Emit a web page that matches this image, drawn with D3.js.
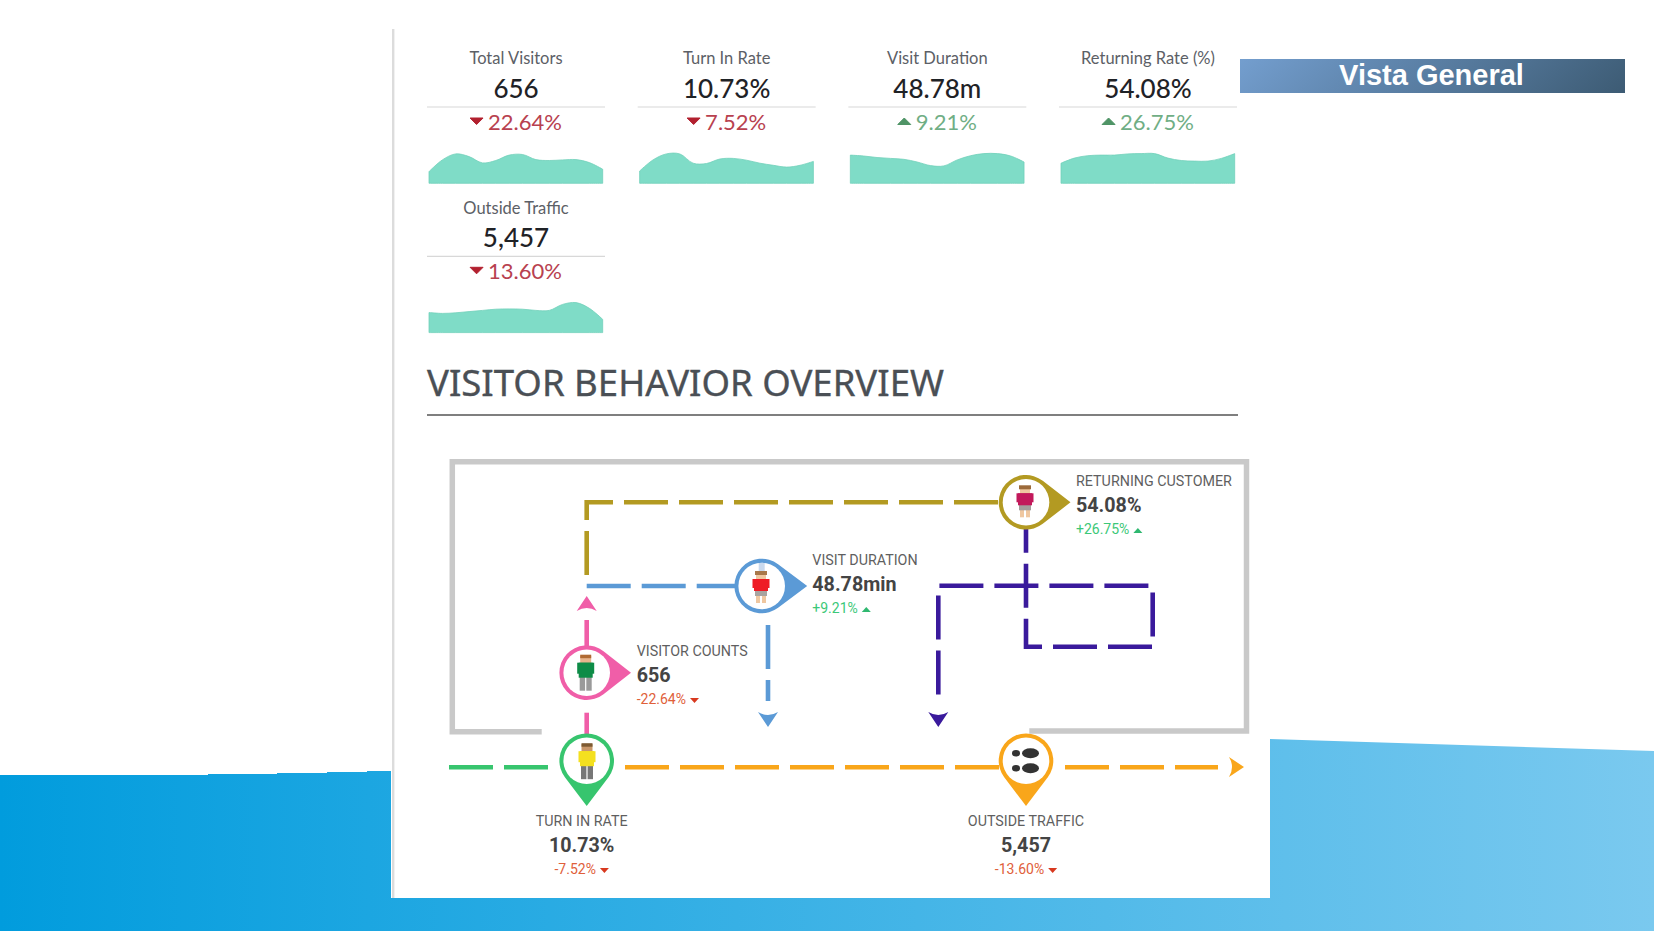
<!DOCTYPE html>
<html>
<head>
<meta charset="utf-8">
<script src="https://cdn.jsdelivr.net/npm/d3@7"></script>
<style>
  html, body { margin: 0; padding: 0; background: white; overflow: hidden; }
  svg { display: block; }
</style>
</head>
<body>
<script>
// kpi cards
let cardLabels = ["Total Visitors", "Turn In Rate", "Visit Duration", "Returning Rate (%)", "Outside Traffic"];
let cardValues = ["656", "10.73%", "48.78m", "54.08%", "5,457"];
let cardDeltas = [-22.64, -7.52, 9.21, 26.75, -13.60];

// sparkline heights, 0-100 of the strip
let sparkVisitors = [39, 78, 98, 89, 68, 76, 94, 96, 79, 76, 78, 79, 69, 47];
let sparkTurnIn = [41, 78, 98, 98, 67, 66, 81, 83, 77, 67, 60, 54, 60, 73];
let sparkDuration = [94, 91, 86, 83, 80, 71, 59, 58, 78, 92, 99, 99, 91, 71];
let sparkReturning = [67, 84, 92, 94, 94, 98, 99, 99, 84, 76, 74, 74, 83, 99];
let sparkOutside = [67, 64, 66, 70, 74, 78, 79, 78, 74, 74, 94, 100, 81, 44];
let sparks = [sparkVisitors, sparkTurnIn, sparkDuration, sparkReturning, sparkOutside];

// flow diagram
let flowLabels = ["VISITOR COUNTS", "VISIT DURATION", "RETURNING CUSTOMER", "TURN IN RATE", "OUTSIDE TRAFFIC"];
let flowValues = ["656", "48.78min", "54.08%", "10.73%", "5,457"];
let flowDeltas = [-22.64, 9.21, 26.75, -7.52, -13.60];

let w = 1654, h = 931;
let svg = d3.select("body").append("svg").attr("width", w).attr("height", h);
let defs = svg.append("defs");

let bgGrad = defs.append("linearGradient").attr("id", "bg")
  .attr("gradientUnits", "userSpaceOnUse")
  .attr("x1", 0).attr("x2", w).attr("y1", 0).attr("y2", 0);
bgGrad.append("stop").attr("offset", 0).attr("stop-color", "#019cdd");
bgGrad.append("stop").attr("offset", 1).attr("stop-color", "#7ac9ef");

let barGrad = defs.append("linearGradient").attr("id", "bar")
  .attr("gradientUnits", "userSpaceOnUse")
  .attr("x1", 1300).attr("y1", -70).attr("x2", 1565).attr("y2", 222);
barGrad.append("stop").attr("offset", 0).attr("stop-color", "#7eabe0");
barGrad.append("stop").attr("offset", 1).attr("stop-color", "#324e62");

// slide background
svg.append("path").attr("fill", "url(#bg)")
  .attr("d", "M0,775 H208 V774 H277 V773 H327 V772 H367 V771 H391 V898 H1270 V739 L1654,751 V931 H0 Z");
svg.append("rect").attr("x", 392).attr("y", 29).attr("width", 2.4).attr("height", 869).attr("fill", "#dcdcdc");

// header bar
svg.append("rect").attr("x", 1240).attr("y", 59).attr("width", 385).attr("height", 34).attr("fill", "url(#bar)");
svg.append("text").attr("x", 1431.5).attr("y", 85).attr("text-anchor", "middle")
  .attr("font-family", "Liberation Sans").attr("font-weight", "bold").attr("font-size", 29)
  .attr("fill", "white").text("Vista General");

// cards
let cardFont = "Lato";
let cardX = d3.scalePoint().domain(d3.range(4)).range([516, 1148]);
let posColor = "#70ae85", negColor = "#b8414f";

cardLabels.forEach(function(label, i) {
  let cx = cardX(i % 4);
  let dy = i < 4 ? 0 : 149.3;
  let g = svg.append("g").attr("transform", "translate(" + cx + "," + dy + ")");

  g.append("text").attr("y", 64.4).attr("text-anchor", "middle")
    .attr("font-family", cardFont).attr("font-size", 16.5).attr("fill", "#5c6066").text(label);
  g.append("text").attr("y", 98).attr("text-anchor", "middle")
    .attr("font-family", cardFont).attr("font-size", 26).attr("font-weight", 500).attr("fill", "#1f2226").text(cardValues[i]);
  g.append("line").attr("x1", -89).attr("x2", 89).attr("y1", 107).attr("y2", 107)
    .attr("stroke", "#d8d8d8").attr("stroke-width", 1.2);

  let delta = cardDeltas[i];
  let colour = delta < 0 ? negColor : posColor;
  let deltaText = g.append("text").attr("y", 130).attr("text-anchor", "middle")
    .attr("font-family", cardFont).attr("font-size", 22).attr("fill", colour)
    .attr("dx", 9).text(d3.format(".2f")(Math.abs(delta)) + "%");
  let bb = deltaText.node().getBBox();
  let tx = bb.x - 11.5;
  g.append("path").attr("fill", delta < 0 ? "#b2202f" : "#4f9466")
    .attr("stroke", delta < 0 ? "#b2202f" : "#4f9466").attr("stroke-width", 1).attr("stroke-linejoin", "round")
    .attr("d", delta < 0
      ? "M" + (tx - 6.5) + ",118 h13 l-6.5,6.5 Z"
      : "M" + (tx - 6.5) + ",124.5 h13 l-6.5,-6.5 Z");

  // sparkline
  let sx = d3.scaleLinear().domain([0, sparks[i].length - 1]).range([-87, 86.7]);
  let sy = d3.scaleLinear().domain([0, 100]).range([183.3, 153.3]);
  let area = d3.area().x((d, k) => sx(k)).y0(sy(0)).y1(d => sy(d)).curve(d3.curveCatmullRom);
  g.append("path").datum(sparks[i]).attr("d", area)
    .attr("fill", "#7fdcc7").attr("stroke", "#71d0ba").attr("stroke-width", 0.8);
});

// section title
svg.append("text").attr("x", 427).attr("y", 396).attr("font-family", "Noto Sans")
  .attr("font-size", 36).attr("fill", "#4a4f55").attr("stroke", "#4a4f55").attr("stroke-width", 0.35)
  .attr("textLength", 517).attr("lengthAdjust", "spacingAndGlyphs")
  .text("VISITOR BEHAVIOR OVERVIEW");
svg.append("line").attr("x1", 427).attr("x2", 1238).attr("y1", 415).attr("y2", 415)
  .attr("stroke", "#555").attr("stroke-width", 1.3);

// outer gray frame
svg.append("path").attr("fill", "none").attr("stroke", "#c9c9c9").attr("stroke-width", 5.5)
  .attr("d", "M541.7,731.7 H452.3 V461.8 H1246.5 V731 H1029.3");

// dashed flows
let line = d3.line();
function flow(points, colour) {
  svg.append("path").attr("d", line(points)).attr("fill", "none")
    .attr("stroke", colour).attr("stroke-width", 4.6).attr("stroke-dasharray", "44 11");
}
let gold = "#b39a22", blue = "#5b9ad6", pink = "#f05ea8", green = "#37c56e", orange = "#f9a61a", purple = "#3a1a9c";

flow([[586.7, 575], [586.7, 502.3], [1005, 502.3]], gold);
flow([[586.7, 586], [740, 586]], blue);
flow([[768, 625], [768, 701]], blue);
flow([[586.7, 664], [586.7, 620]], pink);
svg.append("line").attr("x1", 586.7).attr("x2", 586.7).attr("y1", 712.7).attr("y2", 740)
  .attr("stroke", pink).attr("stroke-width", 4.6);
flow([[449, 767.3], [548, 767.3]], green);
flow([[625, 767.3], [1000, 767.3]], orange);
flow([[1065, 767.3], [1218, 767.3]], orange);
flow([[1026, 508.7], [1026, 646.7], [1152.7, 646.7], [1152.7, 585.7], [938.3, 585.7], [938.3, 696]], purple);

// notched arrow heads
function arrow(x, y, angle, colour) {
  svg.append("path").attr("fill", colour)
    .attr("transform", "translate(" + x + "," + y + ") rotate(" + angle + ")")
    .attr("d", "M0,8 L-10,-7 Q0,-1 10,-7 Z");
}
arrow(768, 719, 0, blue);
arrow(938.3, 719, 0, purple);
arrow(586.7, 604, 180, pink);
arrow(1236, 767, -90, orange);

// pin markers
function pin(cx, cy, tipAngle, tipDist, colour) {
  let g = svg.append("g").attr("transform", "translate(" + cx + "," + cy + ")");
  let r = 27.3;
  let a = Math.acos(r / tipDist);
  let t = tipAngle * Math.PI / 180;
  let p1 = [r * Math.cos(t - a), r * Math.sin(t - a)];
  let p2 = [r * Math.cos(t + a), r * Math.sin(t + a)];
  let tip = [tipDist * Math.cos(t), tipDist * Math.sin(t)];
  g.append("path").attr("fill", colour)
    .attr("d", "M" + p1 + " L" + tip + " L" + p2 + " A" + r + "," + r + " 0 1 1 " + p1 + " Z");
  g.append("circle").attr("r", 23.3).attr("fill", "white");
  return g;
}

function man(g, dx, dy, shirt, hair, legs, skin) {
  let p = g.append("g").attr("transform", "translate(" + dx + "," + dy + ")");
  p.append("rect").attr("x", -6).attr("y", 4).attr("width", 5.4).attr("height", 14).attr("fill", legs);
  p.append("rect").attr("x", 0.6).attr("y", 4).attr("width", 5.4).attr("height", 14).attr("fill", legs);
  p.append("rect").attr("x", -5.5).attr("y", -17).attr("width", 11).attr("height", 8).attr("fill", skin);
  p.append("rect").attr("x", -5.5).attr("y", -18).attr("width", 11).attr("height", 3.5).attr("fill", hair);
  p.append("rect").attr("x", -8.5).attr("y", -10).attr("width", 17).attr("height", 11).attr("fill", shirt);
  p.append("rect").attr("x", -7).attr("y", -10).attr("width", 14).attr("height", 15).attr("fill", shirt);
}

function woman(g, dx, dy, shirt, hair, shorts, skin) {
  let p = g.append("g").attr("transform", "translate(" + dx + "," + dy + ")");
  p.append("rect").attr("x", -5).attr("y", 8).attr("width", 4).attr("height", 8).attr("fill", skin);
  p.append("rect").attr("x", 1).attr("y", 8).attr("width", 4).attr("height", 8).attr("fill", skin);
  p.append("rect").attr("x", -6).attr("y", 3).attr("width", 12).attr("height", 6).attr("fill", shorts);
  p.append("rect").attr("x", -5).attr("y", -15).attr("width", 10).attr("height", 8).attr("fill", skin);
  p.append("rect").attr("x", -6).attr("y", -16).attr("width", 12).attr("height", 4).attr("fill", hair);
  p.append("rect").attr("x", -8.5).attr("y", -8).attr("width", 17).attr("height", 9).attr("fill", shirt);
  p.append("rect").attr("x", -7).attr("y", -8).attr("width", 14).attr("height", 12).attr("fill", shirt);
}

let pinPink = pin(586.7, 672.7, 0, 44.3, pink);
man(pinPink, -1, 0, "#0e8c47", "#b06a33", "#9a9a9a", "#e8b48c");
let pinBlue = pin(761.7, 586, 0, 45.5, blue);
pinBlue.append("rect").attr("x", -3).attr("y", -23).attr("width", 6).attr("height", 9).attr("fill", "#c9d9ee");
woman(pinBlue, -0.7, 1, "#ee1c25", "#a9784a", "#a8a4a0", "#efc7a0");
let pinGold = pin(1026, 502.3, 0, 44.5, gold);
woman(pinGold, -1, -1, "#c2185b", "#9c6a3a", "#a49c9c", "#efc7a0");
let pinGreen = pin(586.7, 760.7, 90, 45.3, green);
man(pinGreen, 0.3, 0.5, "#f4e01f", "#7d5a32", "#777", "#c9976a");
let pinOrange = pin(1026, 760.7, 90, 45.3, orange);

// footprints
[-7.5, 7.5].forEach(function(y) {
  pinOrange.append("ellipse").attr("cx", 4.5).attr("cy", y).attr("rx", 8.5).attr("ry", 5).attr("fill", "#333");
  pinOrange.append("ellipse").attr("cx", -10).attr("cy", y).attr("rx", 4).attr("ry", 3.3).attr("fill", "#333");
});

// flow labels
let labelFont = "Roboto";
let labelPos = [
  { x: 636.7, y: 656, anchor: "start" },
  { x: 812.3, y: 565, anchor: "start" },
  { x: 1076, y: 486, anchor: "start" },
  { x: 581.7, y: 826, anchor: "middle" },
  { x: 1026, y: 826, anchor: "middle" }
];
flowLabels.forEach(function(label, i) {
  let p = labelPos[i];
  let g = svg.append("g").attr("transform", "translate(" + p.x + "," + p.y + ")");
  g.append("text").attr("text-anchor", p.anchor).attr("font-family", labelFont)
    .attr("font-size", 14.3).attr("fill", "#5f5f5f").text(label);
  g.append("text").attr("y", 26).attr("text-anchor", p.anchor).attr("font-family", labelFont)
    .attr("font-weight", "bold").attr("font-size", 19.7).attr("fill", "#444").text(flowValues[i]);

  let d = flowDeltas[i];
  let txt = (d < 0 ? "-" : "+") + d3.format(".2f")(Math.abs(d)) + "%";
  let dt = g.append("text").attr("y", 48).attr("font-family", labelFont)
    .attr("font-size", 14).attr("fill", d < 0 ? "#e0603a" : "#3cc878").text(txt);
  let tw = dt.node().getComputedTextLength();
  let x0 = p.anchor === "start" ? 0 : -(tw + 13) / 2;
  dt.attr("x", x0);
  g.append("path").attr("fill", d < 0 ? "#d8391f" : "#2fb870")
    .attr("d", d < 0
      ? "M" + (x0 + tw + 4) + ",42 h9 l-4.5,5 Z"
      : "M" + (x0 + tw + 4) + ",47 h9 l-4.5,-5 Z");
});
</script>
</body>
</html>
